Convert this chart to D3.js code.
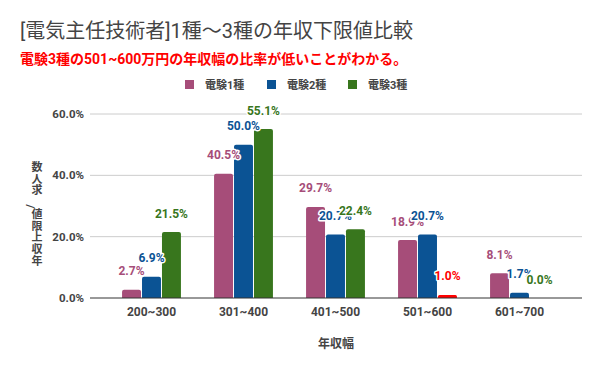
<!DOCTYPE html>
<html>
<head>
<meta charset="utf-8">
<script src="https://cdn.jsdelivr.net/npm/d3@7"></script>
<style>
  body { margin: 0; background: #fff; }
  svg text { font-family: Roboto, "Noto Sans CJK JP", sans-serif; }
</style>
</head>
<body>
<div id="chart"></div>
<script>
// data
var categories = ["200~300", "301~400", "401~500", "501~600", "601~700"];
var seriesNames = ["電験1種", "電験2種", "電験3種"];
var kyu1 = [2.7, 40.5, 29.7, 18.9, 8.1];
var kyu2 = [6.9, 50.0, 20.7, 20.7, 1.7];
var kyu3 = [21.5, 55.1, 22.4, 1.0, 0.0];
var yTicks = [0, 20, 40, 60];

var colors = ["#a64d79", "#0b5394", "#38761d"];
var highlight = "#ff0000"; // 3種 501~600

var width = 600, height = 371;
var svg = d3.select("#chart").append("svg")
    .attr("width", width)
    .attr("height", height);

// title
svg.append("text")
    .attr("x", 20).attr("y", 38)
    .attr("font-size", 20)
    .attr("fill", "#444")
    .text("[電気主任技術者]1種～3種の年収下限値比較");

svg.append("text")
    .attr("x", 20).attr("y", 64)
    .attr("font-size", 14)
    .attr("font-weight", "bold")
    .attr("fill", "#ff0000")
    .text("電験3種の501~600万円の年収幅の比率が低いことがわかる。");

// legend
var legendX = [185, 267, 348];
var legend = svg.append("g");
seriesNames.forEach(function (name, i) {
    legend.append("rect")
        .attr("x", legendX[i]).attr("y", 80)
        .attr("width", 9).attr("height", 9)
        .attr("fill", colors[i]);
    legend.append("text")
        .attr("x", legendX[i] + 20).attr("y", 88.5)
        .attr("font-size", 11)
        .attr("font-weight", "bold")
        .attr("fill", "#444")
        .text(name);
});

// scales
var y = d3.scaleLinear().domain([0, 60]).range([298, 114]);
var x = d3.scaleBand().domain(categories).range([105.5, 565.5]).paddingInner(0.36).paddingOuter(0.18);
var xs = d3.scaleBand().domain(d3.range(3)).range([0, x.bandwidth()]).paddingInner(0.05);

// grid
svg.append("g").selectAll("line")
    .data(yTicks.filter(function (d) { return d > 0; }))
    .enter().append("line")
    .attr("x1", 90).attr("x2", 582)
    .attr("y1", function (d) { return y(d); })
    .attr("y2", function (d) { return y(d); })
    .attr("stroke", "#ccc");

svg.append("g").selectAll("text")
    .data(yTicks)
    .enter().append("text")
    .attr("x", 84)
    .attr("y", function (d) { return y(d) + 4; })
    .attr("text-anchor", "end")
    .attr("font-size", 11.5)
    .attr("font-weight", "bold")
    .attr("fill", "#444")
    .text(function (d) { return d.toFixed(1) + "%"; });

// bars
var table = [];
[kyu1, kyu2, kyu3].forEach(function (vals, s) {
    vals.forEach(function (v, i) {
        var c = colors[s];
        if (s === 2 && categories[i] === "501~600") c = highlight;
        table.push({ s: s, cat: categories[i], v: v, color: c });
    });
});

function barPath(d) {
    var x0 = x(d.cat) + xs(d.s), w = xs.bandwidth();
    var y0 = y(d.v), y1 = y(0);
    var r = Math.min(2, (y1 - y0) / 2, w / 2);
    if (y1 - y0 <= 0) return "";
    return "M" + x0 + "," + y1 +
        "V" + (y0 + r) +
        "Q" + x0 + "," + y0 + " " + (x0 + r) + "," + y0 +
        "H" + (x0 + w - r) +
        "Q" + (x0 + w) + "," + y0 + " " + (x0 + w) + "," + (y0 + r) +
        "V" + y1 + "Z";
}

svg.append("g").selectAll("path")
    .data(table)
    .enter().append("path")
    .attr("d", barPath)
    .attr("fill", function (d) { return d.color; });

// baseline
svg.append("line")
    .attr("x1", 90).attr("x2", 582)
    .attr("y1", y(0)).attr("y2", y(0))
    .attr("stroke", "#333");

// value labels
svg.append("g").selectAll("text")
    .data(table)
    .enter().append("text")
    .attr("x", function (d) { return x(d.cat) + xs(d.s) + xs.bandwidth() / 2; })
    .attr("y", function (d) { return y(d.v) - 14.5; })
    .attr("text-anchor", "middle")
    .attr("font-size", 12)
    .attr("font-weight", "bold")
    .attr("fill", function (d) { return d.color; })
    .attr("stroke", "#fff")
    .attr("stroke-width", 3)
    .attr("stroke-linejoin", "round")
    .attr("paint-order", "stroke")
    .text(function (d) { return d.v.toFixed(1) + "%"; });

// x tick labels
svg.append("g").selectAll("text")
    .data(categories)
    .enter().append("text")
    .attr("x", function (d) { return x(d) + x.bandwidth() / 2; })
    .attr("y", 316)
    .attr("text-anchor", "middle")
    .attr("font-size", 12)
    .attr("font-weight", "bold")
    .attr("fill", "#444")
    .text(function (d) { return d; });

// axis titles
svg.append("text")
    .attr("x", 336).attr("y", 348)
    .attr("text-anchor", "middle")
    .attr("font-size", 12)
    .attr("font-weight", "bold")
    .attr("fill", "#444")
    .text("年収幅");

var yTitle = "年収上限値/求人数".split("").reverse();
var yt = svg.append("g");
yTitle.forEach(function (ch, i) {
    var cy = 167 + i * 11.7;
    if (ch === "/") {
        yt.append("text")
            .attr("transform", "translate(34," + (cy + 4) + ") rotate(-90)")
            .attr("text-anchor", "middle")
            .attr("font-size", 11)
            .attr("font-weight", "bold")
            .attr("fill", "#444")
            .text(ch);
    } else {
        yt.append("text")
            .attr("x", 37).attr("y", cy + 4)
            .attr("text-anchor", "middle")
            .attr("font-size", 11)
            .attr("font-weight", "bold")
            .attr("fill", "#444")
            .text(ch);
    }
});
</script>
</body>
</html>
